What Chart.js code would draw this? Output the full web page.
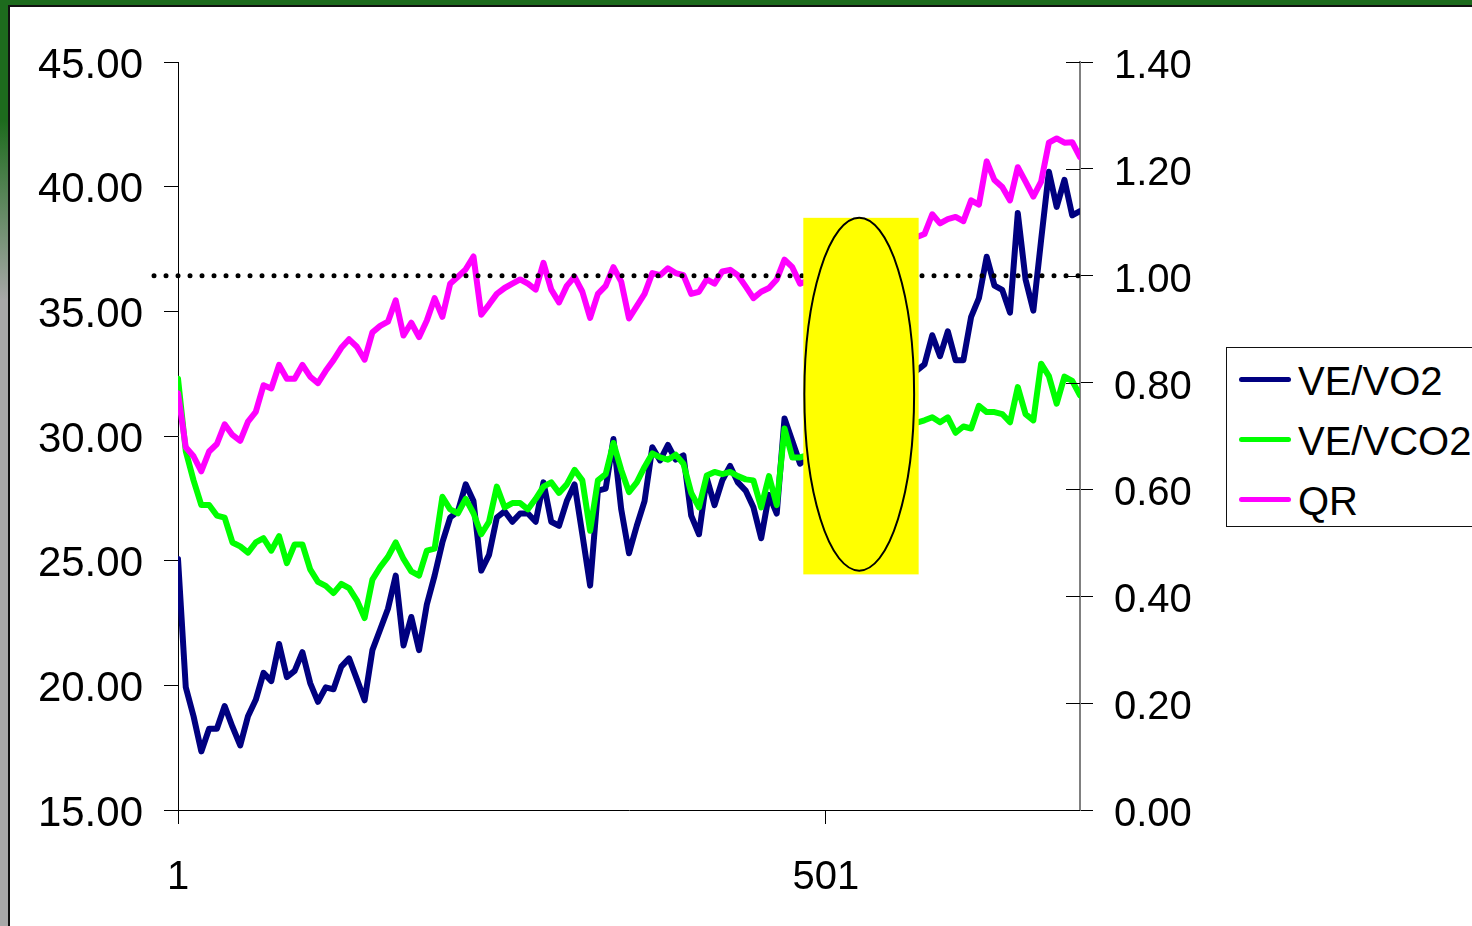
<!DOCTYPE html>
<html>
<head>
<meta charset="utf-8">
<script src="https://cdn.jsdelivr.net/npm/chart.js@4.4.1/dist/chart.umd.min.js"></script>
<style>
    body { margin: 0; width: 1472px; height: 926px; overflow: hidden; background: #fff; font-family: "Liberation Sans", Arial, sans-serif; }
    #bandTop { position: absolute; left: 0; top: 0; width: 1472px; height: 5px; background: #1d6b1d; }
    #bandLeft { position: absolute; left: 0; top: 0; width: 8px; height: 926px;
        background: linear-gradient(#1d6b1d 0px, #1d6b1d 120px, #a8a8a8 300px, #a8a8a8 926px); }
    #inner { position: absolute; left: 8px; top: 5px; right: 0; bottom: 0; border-left: 2px solid #111; border-top: 2px solid #111; background: #fff; }
    #chartBox { position: absolute; left: 0; top: 0; width: 1472px; height: 926px; }
    #legend { position: absolute; left: 1226px; top: 347px; width: 270px; height: 178px; border: 1px solid #111; background: #fff; }
    .item { position: absolute; left: 0; height: 48px; line-height: 48px; font-size: 40px; color: #000; white-space: nowrap; }
    .swatch { position: absolute; left: 12px; width: 52px; height: 5px; border-radius: 3px; }
    .item span { position: absolute; left: 71px; top: 0; }
</style>
</head>
<body>
<div id="bandTop"></div>
<div id="bandLeft"></div>
<div id="inner"></div>
<div id="chartBox"><canvas id="chart" width="1472" height="926"></canvas></div>
<div id="legend"></div>
<script>
// series names and colours
const seriesNames = ['VE/VO2', 'VE/VCO2', 'QR'];
const seriesColors = ['#000080', '#00ff00', '#ff00ff'];

// sample numbers where the curves were read (the part behind the yellow box is hidden)
const sampleX = [];
for (let i = 1; i <= 697; i += 6) {
    if (i < 484 || i > 572) sampleX.push(i);
}

// VE/VO2 (left axis)
const veVo2 = [
    25.07, 19.92, 18.76, 17.35, 18.26, 18.26, 19.17, 18.34, 17.59, 18.76,
    19.42, 20.5, 20.17, 21.66, 20.33, 20.58, 21.33, 20.09, 19.34, 19.92,
    19.84, 20.75, 21.08, 20.25, 19.4, 21.41, 22.24, 23.07, 24.4, 21.6,
    22.74, 21.41, 23.24, 24.4, 25.73, 26.73, 26.98, 28.06, 27.39, 24.6,
    25.23, 26.73, 26.98, 26.56, 26.89, 26.89, 26.56, 28.14, 26.56, 26.4,
    27.39, 28.06, 26.06, 24.0, 27.81, 27.89, 29.88, 27.06, 25.3, 26.4,
    27.39, 29.55, 29.02, 29.64, 29.05, 29.22, 26.81, 26.06, 28.31, 27.23,
    28.22, 28.8, 28.14, 27.81, 27.14, 25.9, 27.64, 26.89, 30.7, 29.8,
    28.89,
    32.87, 34.04, 33.2, 34.2, 33.04, 33.04, 34.78, 35.53, 37.19, 36.03,
    35.86, 34.95, 38.94, 36.28, 35.03, 37.86, 40.6, 39.19, 40.27, 38.85,
    39.02
];

// VE/VCO2 (left axis)
const veVco2 = [
    32.3, 29.39, 28.22, 27.23, 27.23, 26.81, 26.73, 25.73, 25.57, 25.32,
    25.73, 25.9, 25.4, 25.98, 24.9, 25.65, 25.65, 24.65, 24.15, 23.99,
    23.7, 24.07, 23.9, 23.41, 22.7, 24.24, 24.74, 25.15, 25.73, 25.07,
    24.57, 24.4, 25.4, 25.48, 27.56, 27.06, 26.9, 27.48, 26.9, 26.06,
    26.56, 27.97, 27.14, 27.31, 27.31, 27.06, 27.48, 27.97, 28.14, 27.72,
    28.06, 28.64, 28.22, 26.2, 28.22, 28.47, 29.72, 28.64, 27.75, 28.14,
    28.76, 29.3, 29.14, 29.05, 29.25, 28.89, 27.72, 27.14, 28.42, 28.56,
    28.47, 28.56, 28.39, 28.26, 28.22, 27.14, 28.39, 27.23, 30.3, 29.14,
    29.14,
    30.63, 30.75, 30.55, 30.75, 30.13, 30.38, 30.3, 31.21, 30.96, 30.96,
    30.88, 30.55, 31.96, 30.88, 30.63, 32.9, 32.4, 31.3, 32.38, 32.21,
    31.63
];

// QR (right axis)
const qr = [
    0.78, 0.679, 0.662, 0.634, 0.671, 0.685, 0.722, 0.702, 0.691, 0.727,
    0.745, 0.795, 0.789, 0.833, 0.807, 0.807, 0.833, 0.811, 0.799, 0.822,
    0.842, 0.865, 0.881, 0.867, 0.843, 0.894, 0.906, 0.914, 0.954, 0.888,
    0.912, 0.885, 0.916, 0.958, 0.923, 0.985, 0.998, 1.012, 1.036, 0.927,
    0.946, 0.966, 0.977, 0.985, 0.993, 0.985, 0.974, 1.024, 0.974, 0.950,
    0.981, 0.998, 0.970, 0.921, 0.966, 0.981, 1.016, 0.989, 0.920, 0.943,
    0.966, 1.005, 1.001, 1.014, 1.005, 1.001, 0.966, 0.970, 0.993, 0.985,
    1.008, 1.011, 1.001, 0.980, 0.958, 0.970, 0.977, 0.993, 1.030, 1.016,
    0.985,
    1.078, 1.115, 1.098, 1.106, 1.110, 1.102, 1.141, 1.133, 1.214, 1.179,
    1.166, 1.141, 1.203, 1.176, 1.148, 1.176, 1.249, 1.257, 1.249, 1.25,
    1.222
];

// axes
const xTickValues = [1, 501];
const xRange = [1, 697];
const leftRange = [15, 45];
const rightRange = [0, 1.4];

// annotations, in data units
const refLine = { qr: 1.0, from: -17.5, to: 697 };
const yellowBox = { x: [483.5, 572.5], y: [24.45, 38.75] };
const ellipseBox = { x: [484.3, 569], y: [24.6, 38.75] };

const toPoints = vals => vals.map((v, k) => ({ x: sampleX[k], y: v }));

const overlay = {
    id: 'overlay',
    afterDatasetsDraw(chart) {
        const { ctx, scales } = chart;
        const x = scales.x, y = scales.y, y1 = scales.y1;
        // dotted QR = 1 line
        ctx.save();
        ctx.strokeStyle = '#000';
        ctx.lineWidth = 5;
        ctx.lineCap = 'round';
        ctx.setLineDash([0, 12]);
        const ly = y1.getPixelForValue(refLine.qr);
        ctx.beginPath();
        ctx.moveTo(x.getPixelForValue(refLine.from), ly);
        ctx.lineTo(x.getPixelForValue(refLine.to), ly);
        ctx.stroke();
        ctx.restore();
        // yellow box with ellipse
        ctx.save();
        const bx0 = x.getPixelForValue(yellowBox.x[0]), bx1 = x.getPixelForValue(yellowBox.x[1]);
        const by0 = y.getPixelForValue(yellowBox.y[1]), by1 = y.getPixelForValue(yellowBox.y[0]);
        ctx.fillStyle = '#ffff00';
        ctx.fillRect(bx0, by0, bx1 - bx0, by1 - by0);
        const ex0 = x.getPixelForValue(ellipseBox.x[0]), ex1 = x.getPixelForValue(ellipseBox.x[1]);
        const ey0 = y.getPixelForValue(ellipseBox.y[1]), ey1 = y.getPixelForValue(ellipseBox.y[0]);
        ctx.beginPath();
        ctx.ellipse((ex0 + ex1) / 2, (ey0 + ey1) / 2, (ex1 - ex0) / 2, (ey1 - ey0) / 2, 0, 0, Math.PI * 2);
        ctx.strokeStyle = '#000';
        ctx.lineWidth = 2;
        ctx.stroke();
        ctx.restore();
    },
    afterDraw(chart) {
        // right axis ticks cross the axis line
        const { ctx, scales, chartArea } = chart;
        ctx.save();
        ctx.strokeStyle = '#000';
        ctx.lineWidth = 1;
        scales.y1.ticks.forEach(t => {
            const py = Math.round(scales.y1.getPixelForValue(t.value)) + 0.5;
            ctx.beginPath();
            ctx.moveTo(chartArea.right - 14, py);
            ctx.lineTo(chartArea.right, py);
            ctx.stroke();
        });
        ctx.restore();
    }
};

const font = "'Liberation Sans', Arial, sans-serif";
const axes = [veVo2, veVco2, qr];

const chart = new Chart(document.getElementById('chart'), {
    type: 'line',
    data: {
        datasets: axes.map((vals, k) => ({
            label: seriesNames[k],
            data: toPoints(vals),
            borderColor: seriesColors[k],
            backgroundColor: seriesColors[k],
            borderWidth: 6,
            borderJoinStyle: 'round',
            borderCapStyle: 'round',
            pointRadius: 0,
            tension: 0,
            yAxisID: k === 2 ? 'y1' : 'y',
            order: 3 - k
        }))
    },
    options: {
        responsive: false,
        animation: false,
        devicePixelRatio: 1,
        layout: { padding: { top: 62, left: 0, right: 0, bottom: 0 } },
        plugins: { legend: { display: false }, tooltip: { enabled: false } },
        scales: {
            x: {
                type: 'linear',
                min: xRange[0], max: xRange[1],
                afterBuildTicks: s => { s.ticks = xTickValues.map(v => ({ value: v })); },
                afterFit: s => { s.height = 116; },
                grid: { drawOnChartArea: false, color: '#000', tickLength: 14 },
                border: { color: '#000', width: 1 },
                ticks: { color: '#000', font: { family: font, size: 40 }, padding: 30, maxRotation: 0 }
            },
            y: {
                position: 'left',
                min: leftRange[0], max: leftRange[1],
                ticks: { stepSize: 5, color: '#000', font: { family: font, size: 42 }, padding: 21,
                    labelOffset: 4, callback: v => v.toFixed(2) },
                afterFit: s => { s.width = 178; },
                grid: { drawOnChartArea: false, color: '#000', tickLength: 14 },
                border: { color: '#000', width: 1 }
            },
            y1: {
                position: 'right',
                min: rightRange[0], max: rightRange[1],
                ticks: { stepSize: 0.2, color: '#000', font: { family: font, size: 40 }, padding: 21,
                    labelOffset: 5, callback: v => v.toFixed(2) },
                afterFit: s => { s.width = 392; },
                grid: { drawOnChartArea: false, color: '#000', tickLength: 13 },
                border: { color: '#808080', width: 2 }
            }
        }
    },
    plugins: [overlay]
});

// legend box
const legend = document.getElementById('legend');
const rowTops = [9, 69, 129];
chart.data.datasets.forEach((ds, k) => {
    const item = document.createElement('div');
    item.className = 'item';
    item.style.top = rowTops[k] + 'px';
    const sw = document.createElement('div');
    sw.className = 'swatch';
    sw.style.background = ds.borderColor;
    sw.style.top = '20px';
    const label = document.createElement('span');
    label.textContent = ds.label;
    item.appendChild(sw);
    item.appendChild(label);
    legend.appendChild(item);
});
</script>
</body>
</html>
